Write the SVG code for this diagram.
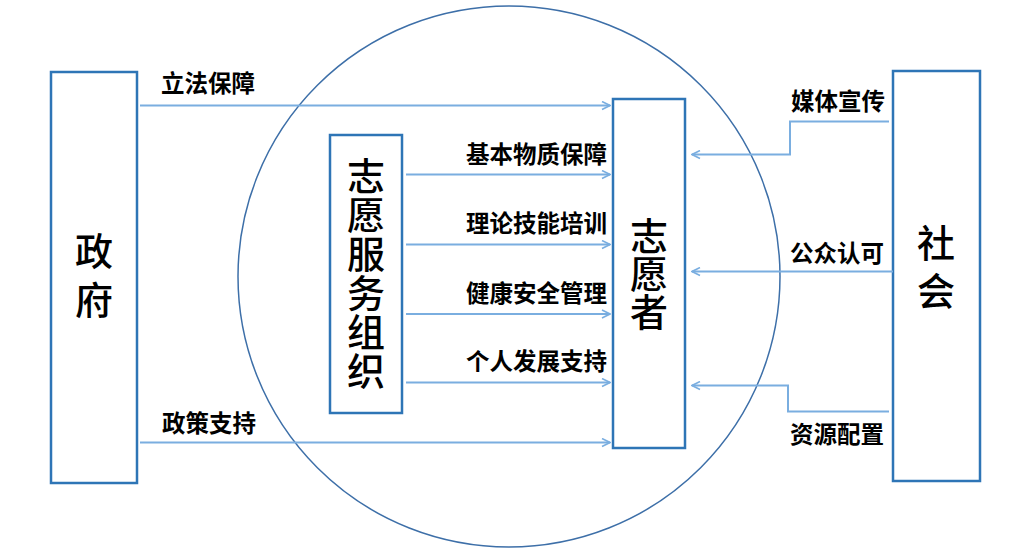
<svg xmlns="http://www.w3.org/2000/svg" width="1029" height="554" viewBox="0 0 1029 554">
<defs>
<style>
.box{fill:#fff;stroke:#2e75b6;stroke-width:2.5}
.ring{fill:none;stroke:#3d6fa8;stroke-width:1.5}
.ln{fill:none;stroke:#7aaee0;stroke-width:2;marker-end:url(#ah)}
.lbl{font-family:"Noto Sans CJK SC","Noto Sans",sans-serif;font-size:23.5px;font-weight:700;fill:#000}
.big{font-family:"Noto Sans CJK SC","Noto Sans",sans-serif;font-size:38px;font-weight:500;fill:#000;writing-mode:vertical-rl;text-orientation:upright}
</style>
<marker id="ah" viewBox="0 0 10 10" refX="9" refY="5" markerWidth="10" markerHeight="10" markerUnits="userSpaceOnUse" orient="auto">
<path d="M1,1 L9,5 L1,9" fill="none" stroke="#7aaee0" stroke-width="1.6"/>
</marker>
</defs>
<rect width="1029" height="554" fill="#fff"/>
<ellipse class="ring" cx="509" cy="276.5" rx="271" ry="270.5"/>
<g id="gov">
<rect class="box" x="51" y="72" width="86" height="411"/>
<text class="big" x="94" y="232" letter-spacing="11">政府</text>
</g>
<g id="org">
<rect class="box" x="330" y="135" width="72" height="278"/>
<text class="big" x="366" y="157" letter-spacing="1">志愿服务组织</text>
</g>
<g id="volunteer">
<rect class="box" x="613" y="99" width="72" height="349"/>
<text class="big" x="649" y="217" letter-spacing="0">志愿者</text>
</g>
<g id="society">
<rect class="box" x="893" y="71" width="87" height="410"/>
<text class="big" x="936" y="224" letter-spacing="10">社会</text>
</g>
<g id="connectors">
<path class="ln" d="M140,105.5 H610"/>
<path class="ln" d="M140,442.5 H610"/>
<path class="ln" d="M406,174.5 H610"/>
<path class="ln" d="M406,244.5 H610"/>
<path class="ln" d="M406,314 H610"/>
<path class="ln" d="M406,382.5 H610"/>
<path class="ln" d="M889,121.5 H790 V154.5 H692"/>
<path class="ln" d="M893,271.5 H692"/>
<path class="ln" d="M889,411.5 H788 V385.5 H692"/>
</g>
<g id="labels">
<text class="lbl" x="161" y="92">立法保障</text>
<text class="lbl" x="162" y="432">政策支持</text>
<g text-anchor="end">
<text class="lbl" x="607" y="163">基本物质保障</text>
<text class="lbl" x="607" y="232">理论技能培训</text>
<text class="lbl" x="607" y="302">健康安全管理</text>
<text class="lbl" x="607" y="370">个人发展支持</text>
<text class="lbl" x="885" y="110">媒体宣传</text>
<text class="lbl" x="884" y="262">公众认可</text>
<text class="lbl" x="884" y="443">资源配置</text>
</g>
</g>
</svg>
